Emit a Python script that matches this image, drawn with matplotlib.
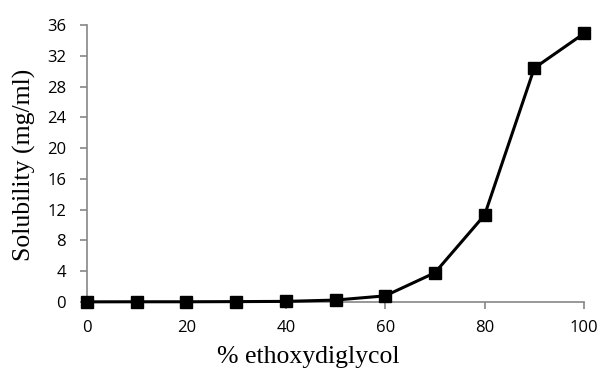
import matplotlib
matplotlib.use("Agg")
import matplotlib.pyplot as plt

ethoxydiglycol_pct = [0, 10, 20, 30, 40, 50, 60, 70, 80, 90, 100]
solubility = [0.02, 0.03, 0.03, 0.05, 0.08, 0.25, 0.8, 3.8, 11.3, 30.4, 34.9]
x_ticks = [0, 20, 40, 60, 80, 100]
y_ticks = [0, 4, 8, 12, 16, 20, 24, 28, 32, 36]

W, H = 602, 372
fig = plt.figure(figsize=(W / 100, H / 100), dpi=100)
ax = fig.add_axes([87 / W, 1 - 302 / H, (584 - 87) / W, (302 - 25) / H])
ax.plot(ethoxydiglycol_pct, solubility, color="black", lw=2.2, marker="s",
        markersize=9, markerfacecolor="black", markeredgecolor="black", clip_on=False, zorder=3)
ax.set_xlim(0, 100)
ax.set_ylim(0, 36)
ax.set_xticks(x_ticks)
ax.set_yticks(y_ticks)
for s in ["top", "right"]:
    ax.spines[s].set_visible(False)
for s in ["left", "bottom"]:
    ax.spines[s].set_color("#868686")
    ax.spines[s].set_linewidth(1.2)
ax.tick_params(axis="both", direction="out", length=5, width=1.2, color="#868686",
               labelsize=12)
ax.tick_params(axis="x", pad=8)
ax.tick_params(axis="y", pad=10)
for lab in ax.get_xticklabels() + ax.get_yticklabels():
    lab.set_fontfamily("Open Sans")
fig.text(308 / W, 1 - 357 / H, "% ethoxydiglycol", fontsize=18.5, family="Liberation Serif",
         ha="center", va="center")
fig.text(24 / W, 1 - 165 / H, "Solubility (mg/ml)", fontsize=18.5, family="Liberation Serif",
         ha="center", va="center", rotation=90)
fig.savefig("out.png", dpi=100)
